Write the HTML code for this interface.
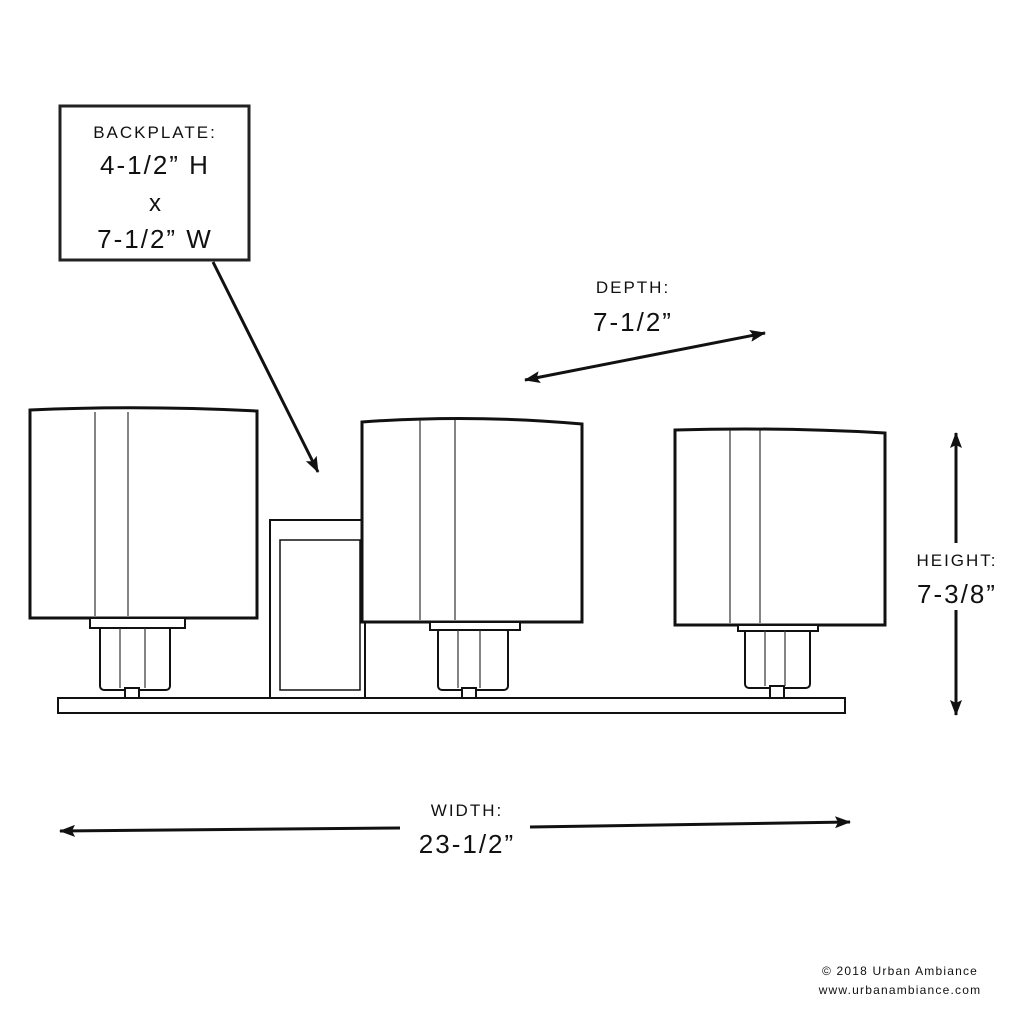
<!DOCTYPE html>
<html><head><style>body{margin:0;background:#fff}svg{display:block}</style></head><body>
<svg width="1024" height="1024" viewBox="0 0 1024 1024" xmlns="http://www.w3.org/2000/svg" font-family="Liberation Sans, sans-serif">
<defs>
<marker id="b" markerWidth="16" markerHeight="12" refX="15" refY="6" orient="auto-start-reverse" markerUnits="userSpaceOnUse"><path d="M0,0 L16,6 L0,12 L3,6 z" fill="#111"/></marker></defs>
<rect x="60" y="106" width="189" height="154" fill="none" stroke="#222" stroke-width="3"/>
<g fill="#111" text-anchor="middle">
<text x="155" y="138" font-size="17" letter-spacing="2">BACKPLATE:</text>
<text x="155" y="174" font-size="26" letter-spacing="2">4-1/2” H</text>
<text x="155" y="211" font-size="24">x</text>
<text x="155" y="248" font-size="26" letter-spacing="2">7-1/2” W</text>
<text x="633" y="293" font-size="17" letter-spacing="2">DEPTH:</text>
<text x="633" y="331" font-size="26" letter-spacing="2">7-1/2”</text>
<text x="957" y="566" font-size="17" letter-spacing="2">HEIGHT:</text>
<text x="957" y="603" font-size="26" letter-spacing="2">7-3/8”</text>
<text x="467" y="816" font-size="17" letter-spacing="2">WIDTH:</text>
<text x="467" y="853" font-size="26" letter-spacing="2">23-1/2”</text>
<text x="900" y="975" font-size="12" letter-spacing="1.2">© 2018 Urban Ambiance</text>
<text x="900" y="994" font-size="12" letter-spacing="1.2">www.urbanambiance.com</text>
</g>
<g stroke="#111" stroke-width="3" fill="none">
<line x1="213" y1="262" x2="318" y2="472" marker-end="url(#b)"/>
<line x1="525" y1="380" x2="765" y2="333" marker-start="url(#b)" marker-end="url(#b)"/>
<line x1="956" y1="433" x2="956" y2="543" marker-start="url(#b)"/>
<line x1="956" y1="610" x2="956" y2="715" marker-end="url(#b)"/>
<line x1="60" y1="831" x2="400" y2="828" marker-start="url(#b)"/>
<line x1="530" y1="827" x2="850" y2="822" marker-end="url(#b)"/>
</g>
<g stroke="#111" fill="#fff" stroke-width="2">
<rect x="270" y="520" width="95" height="178"/>
<rect x="280" y="540" width="80" height="150" stroke-width="1.5"/>
<rect x="58" y="698" width="787" height="15"/>
<rect x="100" y="625" width="70" height="65" rx="4"/>
<rect x="125" y="688" width="14" height="10"/>
<rect x="438" y="628" width="70" height="62" rx="4"/>
<rect x="462" y="688" width="14" height="10"/>
<rect x="745" y="628" width="65" height="60" rx="4"/>
<rect x="770" y="686" width="14" height="12"/>
<path d="M30,410 Q140,405 257,411 L257,618 L30,618 Z" stroke-width="3"/>
<path d="M362,422 Q470,414 582,424 L582,622 L362,622 Z" stroke-width="3"/>
<path d="M675,430 Q780,427 885,433 L885,625 L675,625 Z" stroke-width="3"/>
<rect x="90" y="618" width="95" height="10"/>
<rect x="430" y="622" width="90" height="8"/>
<rect x="738" y="625" width="80" height="6"/>
</g>
<g stroke="#333" stroke-width="1.2">
<line x1="95" y1="412" x2="95" y2="616"/><line x1="128" y1="412" x2="128" y2="616"/>
<line x1="420" y1="420" x2="420" y2="620"/><line x1="455" y1="420" x2="455" y2="620"/>
<line x1="730" y1="430" x2="730" y2="623"/><line x1="760" y1="430" x2="760" y2="623"/>
<line x1="120" y1="628" x2="120" y2="688"/><line x1="145" y1="628" x2="145" y2="688"/>
<line x1="458" y1="630" x2="458" y2="688"/><line x1="480" y1="630" x2="480" y2="688"/>
<line x1="765" y1="630" x2="765" y2="686"/><line x1="785" y1="630" x2="785" y2="686"/>
</g>
</svg>
</body></html>
